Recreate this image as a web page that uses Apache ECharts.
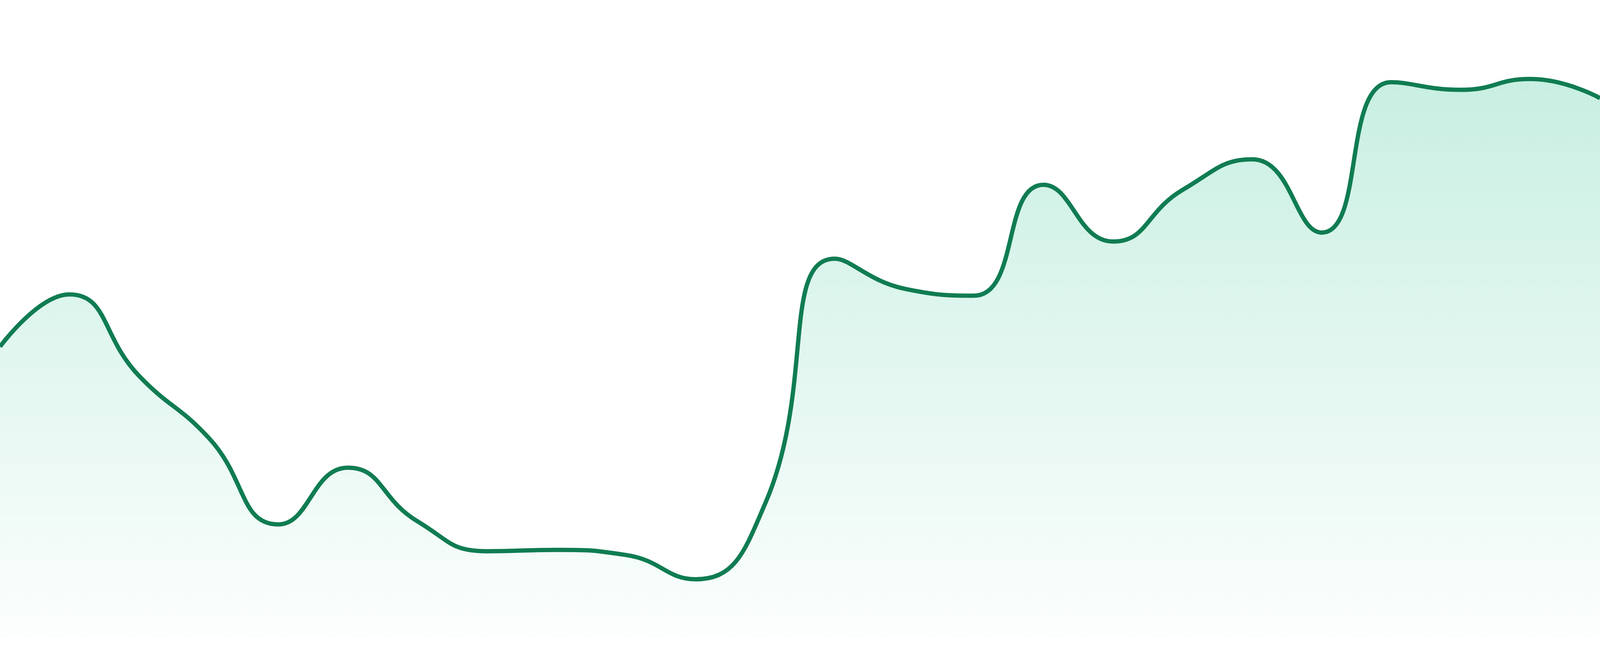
<!DOCTYPE html>
<html>
	<head>
		<meta charset="utf-8" />
		<title></title>
		<style type="text/css">
			html,body{
				width: 100%;
				height: 100%;
				margin: 0;
				padding: 0;
				overflow: hidden;
				background: #fff;
			}
		</style>
	</head>
	<body>
		<div id="chart" style="width:100%;height:100%;"></div>
		<script src="https://cdn.jsdelivr.net/npm/echarts@6/dist/echarts.min.js" type="text/javascript" charset="utf-8"></script>
		<script>
			// categories (no labels shown in the picture)
			var days = ['01', '02', '03', '04', '05', '06', '07', '08', '09', '10', '11', '12',
				'13', '14', '15', '16', '17', '18', '19', '20', '21', '22', '23', '24'];
			// values, 0-100 scale
			var values = [45.6, 53.8, 41.0, 31.3, 17.7, 26.6, 18.2, 13.5, 13.7, 12.9, 9.1, 21.0,
				59.4, 54.7, 53.6, 71.0, 62.1, 70.2, 75.0, 63.5, 87.1, 85.9, 87.6, 84.6];

			var myChart = echarts.init(document.getElementById('chart'));
			var option = {
				animation: false,
				grid: {
					left: 0,
					right: 0,
					top: 0,
					bottom: '2.86%'
				},
				xAxis: {
					type: 'category',
					data: days,
					boundaryGap: false,
					show: false
				},
				yAxis: {
					type: 'value',
					min: 0,
					max: 100,
					show: false
				},
				series: [{
					type: 'line',
					data: values,
					smooth: true,
					symbol: 'none',
					lineStyle: {
						color: '#107c52',
						width: 11
					},
					areaStyle: {
						color: new echarts.graphic.LinearGradient(0, 0, 0, 1, [
							{ offset: 0, color: 'rgba(16,185,129,0.33)' },
							{ offset: 1, color: 'rgba(16,185,129,0.02)' }
						])
					}
				}]
			};
			myChart.setOption(option);
			window.onresize = function() {
				myChart.resize();
			};
		</script>
	</body>
</html>
